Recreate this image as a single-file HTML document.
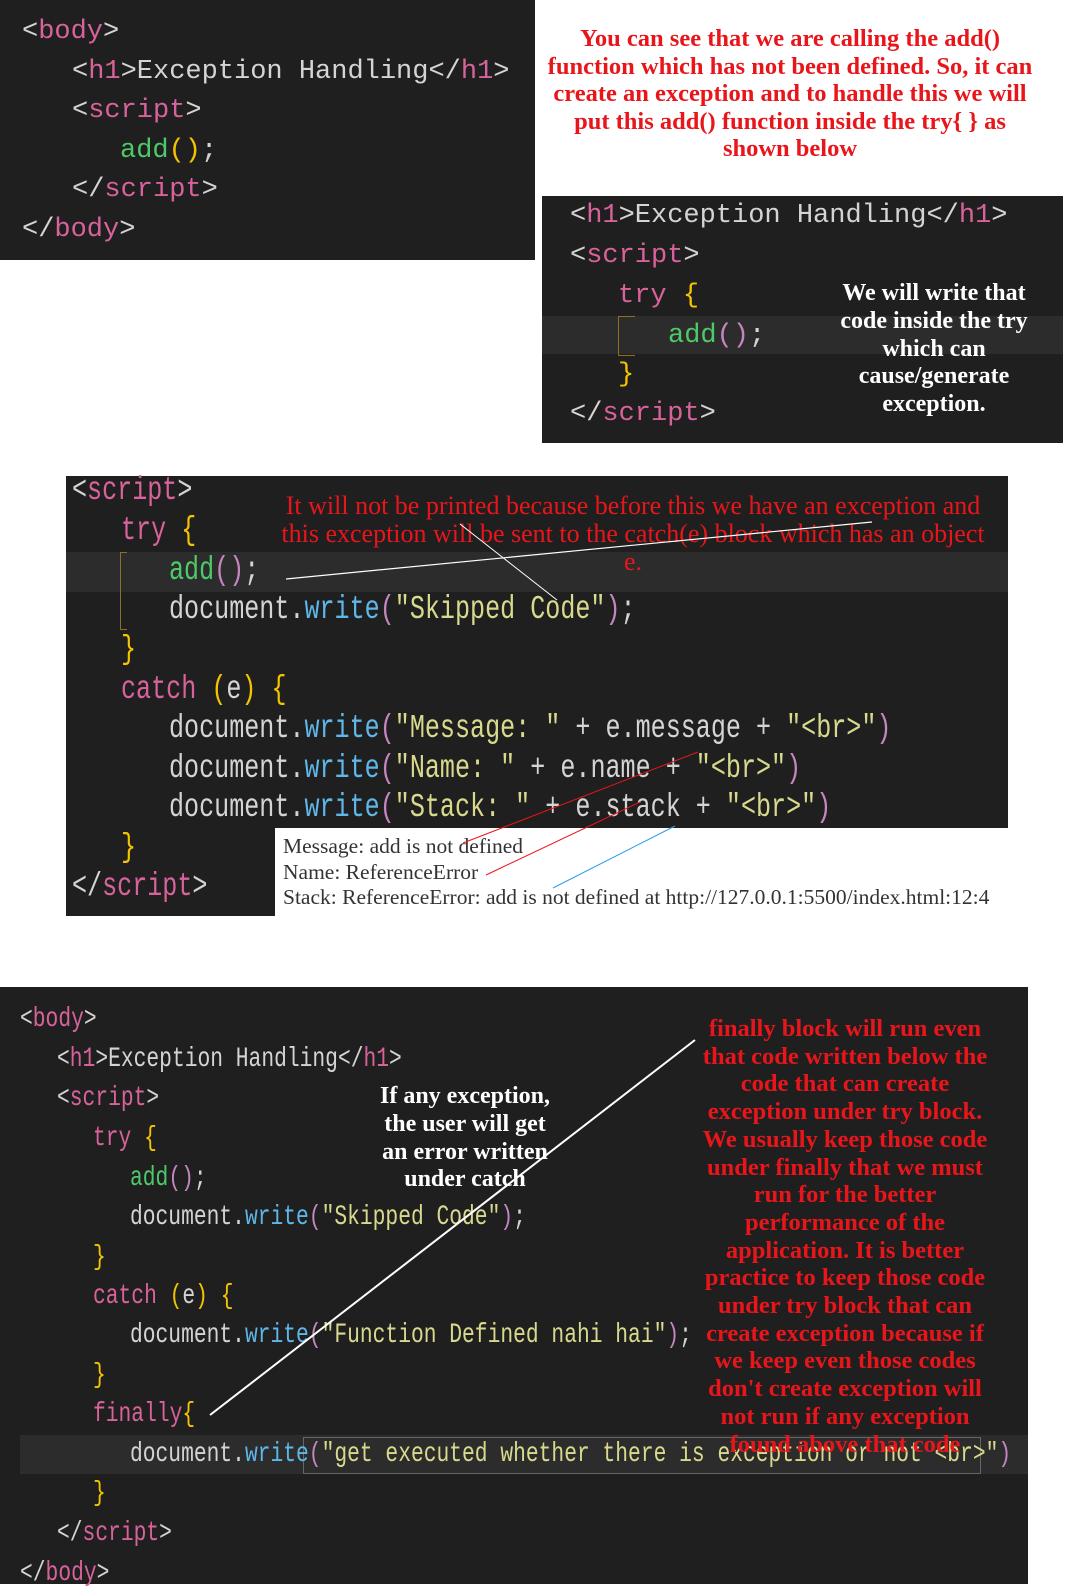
<!DOCTYPE html>
<html><head><meta charset="utf-8"><style>
body{margin:0;width:1078px;height:1584px;background:#fff;position:relative;overflow:hidden}
.box{position:absolute;background:#1f1f1f}
.l{position:absolute;white-space:pre;font-family:"Liberation Mono",monospace;font-size:27px;height:40px;line-height:40px;color:#d4d4d4}
.c{transform:scaleX(0.76);transform-origin:0 50%;font-size:26px}
.t{color:#d8629b}.p{color:#d4d4d4}.g{color:#4ec969}.y{color:#f5c400}.k{color:#d8629b}.b{color:#5fb6e8}.s{color:#d9d98d}.pu{color:#c586c0}
.an{position:absolute;font-family:"Liberation Serif",serif;font-weight:bold;text-align:center;white-space:pre}
.red{color:#e8161b}
.wh{color:#fff}
.band{position:absolute;background:#2c2c2c}
</style></head><body>

<!-- Box 1 -->
<div class="box" style="left:0;top:0;width:535px;height:260px"></div>
<div class="l" style="left:22px;top:12px"><span class="p">&lt;</span><span class="t">body</span><span class="p">&gt;</span></div>
<div class="l" style="left:72px;top:52px">&lt;<span class="t">h1</span>&gt;Exception Handling&lt;/<span class="t">h1</span>&gt;</div>
<div class="l" style="left:72px;top:91px">&lt;<span class="t">script</span>&gt;</div>
<div class="l" style="left:120px;top:131px"><span class="g">add</span><span class="y">()</span>;</div>
<div class="l" style="left:72px;top:170px">&lt;/<span class="t">script</span>&gt;</div>
<div class="l" style="left:22px;top:210px">&lt;/<span class="t">body</span>&gt;</div>

<div class="an red" style="left:520px;top:25px;width:540px;font-size:24.5px;line-height:27.6px">You can see that we are calling the add()
function which has not been defined. So, it can
create an exception and to handle this we will
put this add() function inside the try{ } as
shown below</div>

<!-- Box 2 -->
<div class="box" style="left:542px;top:196px;width:521px;height:247px"></div>
<div class="band" style="left:542px;top:316px;width:521px;height:38px"></div>
<div style="position:absolute;left:618px;top:316px;width:16px;height:38px;border-left:1px solid #8a7020;border-top:1px solid #8a7020;border-bottom:1px solid #8a7020"></div>
<div class="l" style="left:570px;top:196px">&lt;<span class="t">h1</span>&gt;Exception Handling&lt;/<span class="t">h1</span>&gt;</div>
<div class="l" style="left:570px;top:236px">&lt;<span class="t">script</span>&gt;</div>
<div class="l" style="left:618px;top:276px"><span class="k">try</span> <span class="y">{</span></div>
<div class="l" style="left:668px;top:316px"><span class="g">add</span><span class="pu">()</span>;</div>
<div class="l" style="left:618px;top:355px"><span class="y">}</span></div>
<div class="l" style="left:570px;top:394px">&lt;/<span class="t">script</span>&gt;</div>
<div class="an wh" style="left:809px;top:280px;width:250px;font-size:24px;line-height:27.8px">We will write that
code inside the try
which can
cause/generate
exception.</div>

<!-- Box 3 -->
<div class="box" style="left:66px;top:476px;width:942px;height:440px"></div>
<div class="band" style="left:66px;top:552px;width:942px;height:40px"></div>
<div style="position:absolute;left:120px;top:552px;width:6px;height:76px;border-left:1px solid #8a7020;border-top:1px solid #8a7020;border-bottom:1px solid #8a7020"></div>
<div style="position:absolute;left:275px;top:828px;width:733px;height:88px;background:#fff"></div>
<div class="l c" style="left:72px;top:471px;font-size:33px">&lt;<span class="t">script</span>&gt;</div>
<div class="l c" style="left:121px;top:511px;font-size:33px"><span class="k">try</span> <span class="y">{</span></div>
<div class="l c" style="left:169px;top:551px;font-size:33px"><span class="g">add</span><span class="pu">()</span>;</div>
<div class="l c" style="left:169px;top:590px;font-size:33px">document.<span class="b">write</span><span class="pu">(</span><span class="s">"Skipped Code"</span><span class="pu">)</span>;</div>
<div class="l c" style="left:121px;top:630px;font-size:33px"><span class="y">}</span></div>
<div class="l c" style="left:121px;top:670px;font-size:33px"><span class="k">catch</span> <span class="y">(</span>e<span class="y">)</span> <span class="y">{</span></div>
<div class="l c" style="left:169px;top:709px;font-size:33px">document.<span class="b">write</span><span class="pu">(</span><span class="s">"Message: "</span> + e.message + <span class="s">"&lt;br&gt;"</span><span class="pu">)</span></div>
<div class="l c" style="left:169px;top:749px;font-size:33px">document.<span class="b">write</span><span class="pu">(</span><span class="s">"Name: "</span> + e.name + <span class="s">"&lt;br&gt;"</span><span class="pu">)</span></div>
<div class="l c" style="left:169px;top:788px;font-size:33px">document.<span class="b">write</span><span class="pu">(</span><span class="s">"Stack: "</span> + e.stack + <span class="s">"&lt;br&gt;"</span><span class="pu">)</span></div>
<div class="l c" style="left:121px;top:828px;font-size:33px"><span class="y">}</span></div>
<div class="l c" style="left:72px;top:867px;font-size:33px">&lt;/<span class="t">script</span>&gt;</div>
<div class="an red" style="left:272px;top:492px;width:722px;font-size:26px;line-height:28px;font-weight:normal">It will not be printed because before this we have an exception and
this exception will be sent to the catch(e) block which has an object
e.</div>
<div style="position:absolute;left:283px;top:834px;font-family:'Liberation Serif',serif;font-size:21.5px;line-height:25.5px;color:#333;white-space:pre">Message: add is not defined
Name: ReferenceError
Stack: ReferenceError: add is not defined at http://127.0.0.1:5500/index.html:12:4</div>

<!-- Box 4 -->
<div class="box" style="left:0;top:987px;width:1028px;height:597px"></div>
<div class="band" style="left:20px;top:1435px;width:1008px;height:39px"></div>
<div style="position:absolute;left:303px;top:1437px;width:676px;height:35px;border:1px solid #666"></div>
<div class="l c" style="left:20px;top:1000px;font-size:28px">&lt;<span class="t">body</span>&gt;</div>
<div class="l c" style="left:57px;top:1040px;font-size:28px">&lt;<span class="t">h1</span>&gt;Exception Handling&lt;/<span class="t">h1</span>&gt;</div>
<div class="l c" style="left:57px;top:1079px;font-size:28px">&lt;<span class="t">script</span>&gt;</div>
<div class="l c" style="left:93px;top:1119px;font-size:28px"><span class="k">try</span> <span class="y">{</span></div>
<div class="l c" style="left:130px;top:1159px;font-size:28px"><span class="g">add</span><span class="pu">()</span>;</div>
<div class="l c" style="left:130px;top:1198px;font-size:28px">document.<span class="b">write</span><span class="pu">(</span><span class="s">"Skipped Code"</span><span class="pu">)</span>;</div>
<div class="l c" style="left:93px;top:1238px;font-size:28px"><span class="y">}</span></div>
<div class="l c" style="left:93px;top:1277px;font-size:28px"><span class="k">catch</span> <span class="y">(</span>e<span class="y">)</span> <span class="y">{</span></div>
<div class="l c" style="left:130px;top:1316px;font-size:28px">document.<span class="b">write</span><span class="pu">(</span><span class="s">"Function Defined nahi hai"</span><span class="pu">)</span>;</div>
<div class="l c" style="left:93px;top:1356px;font-size:28px"><span class="y">}</span></div>
<div class="l c" style="left:93px;top:1395px;font-size:28px"><span class="k">finally</span><span class="y">{</span></div>
<div class="l c" style="left:130px;top:1435px;font-size:28px">document.<span class="b">write</span><span class="pu">(</span><span class="s">"get executed whether there is exception or not &lt;br&gt;"</span><span class="pu">)</span></div>
<div class="l c" style="left:93px;top:1474px;font-size:28px"><span class="y">}</span></div>
<div class="l c" style="left:57px;top:1514px;font-size:28px">&lt;/<span class="t">script</span>&gt;</div>
<div class="l c" style="left:20px;top:1554px;font-size:28px">&lt;/<span class="t">body</span>&gt;</div>

<div class="an wh" style="left:340px;top:1083px;width:250px;font-size:24px;line-height:27.8px">If any exception,
the user will get
an error written
under catch</div>
<div class="an red" style="left:680px;top:1015px;width:330px;font-size:24.5px;line-height:27.7px">finally block will run even
that code written below the
code that can create
exception under try block.
We usually keep those code
under finally that we must
run for the better
performance of the
application. It is better
practice to keep those code
under try block that can
create exception because if
we keep even those codes
don't create exception will
not run if any exception
found above that code</div>

<svg width="1078" height="1584" style="position:absolute;left:0;top:0">
<line x1="286" y1="579" x2="872" y2="522" stroke="#fff" stroke-width="1.2"/>
<line x1="460" y1="524" x2="557" y2="600" stroke="#fff" stroke-width="1"/>
<line x1="698" y1="752" x2="463" y2="843" stroke="#e8161b" stroke-width="1"/>
<line x1="640" y1="802" x2="486" y2="875" stroke="#e8161b" stroke-width="1"/>
<line x1="675" y1="826" x2="553" y2="888" stroke="#2a9fe8" stroke-width="1"/>
<line x1="695" y1="1040" x2="210" y2="1415" stroke="#fff" stroke-width="2"/>
</svg>
</body></html>
